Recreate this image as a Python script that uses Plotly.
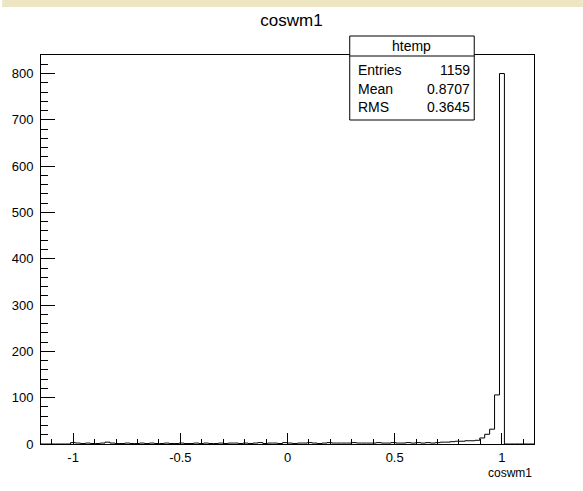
import numpy as np
import plotly.graph_objects as go

# ---- data ----
x_min, x_max = -1.15, 1.15
n_bins = 100
bin_counts = (
    [0, 0, 0, 0, 0, 0]
    + [3, 2, 1, 2, 1, 1, 2, 4, 2, 1, 1, 2, 1, 1, 2]
    + [1, 2, 1, 1, 2, 1, 1, 2, 1, 1, 2, 1, 2, 1, 1, 2, 1, 2, 2, 1]
    + [2, 1, 2, 3, 1, 2, 2, 1, 3, 2, 1, 2, 2, 3, 2, 1, 2, 3, 2, 2]
    + [2, 2, 3, 2, 2, 2, 2, 3, 2, 2, 3, 2, 2, 3, 2, 3, 2, 3, 2, 3]
    + [4, 4, 5, 6, 6]
    + [7, 7, 8, 13, 21, 32, 106, 800]
    + [0, 0, 0, 0, 0, 0]
)
y_max = 840

title_text = "coswm1"
x_title = "coswm1"
stats_name = "htemp"
stats_labels = ["Entries", "Mean", "RMS"]
stats_values = ["1159", "0.8707", "0.3645"]

x_ticks = [-1, -0.5, 0, 0.5, 1]
x_tick_text = ["-1", "-0.5", "0", "0.5", "1"]

# ---- figure ----
W, H = 583, 491
ml, mr, mt, mb = 39, 49, 55, 47
pw, ph = W - ml - mr, H - mt - mb

def px(x):
    return (x - ml) / pw

def py(y):
    return (H - mb - y) / ph

edges = np.linspace(x_min, x_max, n_bins + 1)
ys = list(bin_counts) + [bin_counts[-1]]

fig = go.Figure()
fig.add_trace(go.Scatter(
    x=edges, y=ys, mode="lines", line=dict(color="black", width=1, shape="hv"),
    hoverinfo="skip", showlegend=False,
))

font = "Liberation Sans, Arial, Helvetica, sans-serif"

fig.update_layout(
    width=W, height=H,
    margin=dict(l=ml, r=mr, t=mt, b=mb, pad=0),
    paper_bgcolor="white", plot_bgcolor="white",
    font=dict(family=font, size=13, color="black"),
    title=dict(text=title_text, x=0.5, xanchor="center", xref="container",
               y=1 - 20 / H, yanchor="middle", yref="container",
               font=dict(size=17, family=font, color="black")),
    showlegend=False,
)

fig.update_xaxes(
    range=[x_min, x_max], showgrid=False, zeroline=False,
    showline=True, mirror=True, linecolor="black", linewidth=1,
    ticks="inside", ticklen=11, tickcolor="black", tickwidth=1,
    tickvals=x_ticks, ticktext=x_tick_text,
    minor=dict(ticks="inside", ticklen=5, dtick=0.1, tick0=0, tickcolor="black", showgrid=False),
    tickfont=dict(size=13, family=font), ticklabelstandoff=1,
)
fig.update_yaxes(
    range=[0, y_max], showgrid=False, zeroline=False,
    showline=True, mirror=True, linecolor="black", linewidth=1,
    ticks="inside", ticklen=14, tickcolor="black", tickwidth=1,
    dtick=100, tick0=0,
    minor=dict(ticks="inside", ticklen=7, dtick=20, tick0=0, tickcolor="black", showgrid=False),
    tickfont=dict(size=13, family=font), ticklabelstandoff=4,
)

shapes = []
# beige strip at top of canvas
shapes.append(dict(type="rect", xref="paper", yref="paper",
                   x0=px(0), x1=px(W), y0=py(7), y1=py(0),
                   fillcolor="#eee5c3", line=dict(width=0), layer="below"))
# stats box
bx0, bx1, by0, by1, bdiv = 349, 474, 36, 120, 56
shapes.append(dict(type="rect", xref="paper", yref="paper",
                   x0=px(bx0), x1=px(bx1), y0=py(by1), y1=py(by0),
                   fillcolor="white", line=dict(color="black", width=1), layer="above"))
shapes.append(dict(type="line", xref="paper", yref="paper",
                   x0=px(bx0), x1=px(bx1), y0=py(bdiv), y1=py(bdiv),
                   line=dict(color="black", width=1), layer="above"))
fig.update_layout(shapes=shapes)

ann = []
ann.append(dict(text=stats_name, xref="paper", yref="paper",
                x=px((bx0 + bx1) / 2), y=py(46), xanchor="center", yanchor="middle",
                showarrow=False, font=dict(size=14, family=font)))
for i, (lab, val) in enumerate(zip(stats_labels, stats_values)):
    yy = [70, 89, 107][i]
    ann.append(dict(text=lab, xref="paper", yref="paper", x=px(355), y=py(yy),
                    xanchor="left", yanchor="middle", showarrow=False,
                    font=dict(size=14, family=font)))
    ann.append(dict(text=val, xref="paper", yref="paper", x=px(472), y=py(yy),
                    xanchor="right", yanchor="middle", showarrow=False,
                    font=dict(size=14, family=font)))
ann.append(dict(text=x_title, xref="paper", yref="paper", x=1, y=py(473),
                xanchor="right", yanchor="middle", showarrow=False,
                font=dict(size=12, family=font)))
fig.update_layout(annotations=ann)

fig.write_html("out.html")
